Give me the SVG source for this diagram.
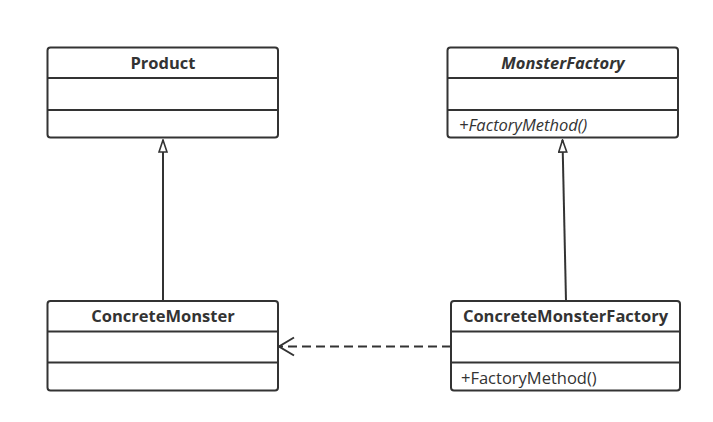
<svg xmlns="http://www.w3.org/2000/svg" width="713" height="422" viewBox="0 0 713 422">
<style>
.box{fill:#fff;stroke:#333;stroke-width:2}
.div{stroke:#333;stroke-width:2}
.t{font-family:"Open Sans","Noto Sans",sans-serif;font-size:16.5px;fill:#333}
.b{font-weight:bold;text-anchor:middle}
.i{font-style:italic}
.edge{fill:none;stroke:#333;stroke-width:2}
</style>
<defs>
<marker id="tri" markerUnits="userSpaceOnUse" markerWidth="14" markerHeight="10" refX="13" refY="5" orient="auto" viewBox="0 0 14 10">
<path d="M1,1 L13,5 L1,9 Z" fill="#fff" stroke="#333" stroke-width="1.6"/>
</marker>
<marker id="open" markerUnits="userSpaceOnUse" markerWidth="18" markerHeight="22" refX="16" refY="10" orient="auto" viewBox="0 0 18 20">
<path d="M1,1 L16,10 L1,19" fill="none" stroke="#333" stroke-width="2"/>
</marker>
</defs>
<g id="edges">
<line class="edge" x1="163" y1="301" x2="163" y2="140" marker-end="url(#tri)"/>
<line class="edge" x1="566" y1="301" x2="562.5" y2="140" marker-end="url(#tri)"/>
<line class="edge" x1="451" y1="346.5" x2="279" y2="346.5" stroke-dasharray="9,5" marker-end="url(#open)"/>
</g>
<g id="Product">
<rect class="box" x="47.5" y="47.5" width="230.5" height="90" rx="3"/>
<line class="div" x1="47.5" y1="78" x2="278" y2="78"/>
<line class="div" x1="47.5" y1="110" x2="278" y2="110"/>
<text class="t b" x="163" y="68.5">Product</text>
</g>
<g id="MonsterFactory">
<rect class="box" x="447.5" y="47.5" width="230.5" height="90" rx="3"/>
<line class="div" x1="447.5" y1="78" x2="678" y2="78"/>
<line class="div" x1="447.5" y1="110" x2="678" y2="110"/>
<text class="t b i" x="563" y="68.5">MonsterFactory</text>
<text class="t i" x="459" y="131">+FactoryMethod()</text>
</g>
<g id="ConcreteMonster">
<rect class="box" x="47.5" y="301" width="230.5" height="89.5" rx="3"/>
<line class="div" x1="47.5" y1="331.5" x2="278" y2="331.5"/>
<line class="div" x1="47.5" y1="362.5" x2="278" y2="362.5"/>
<text class="t b" x="163" y="321.5">ConcreteMonster</text>
</g>
<g id="ConcreteMonsterFactory">
<rect class="box" x="451" y="301" width="229" height="89.5" rx="3"/>
<line class="div" x1="451" y1="331.5" x2="680" y2="331.5"/>
<line class="div" x1="451" y1="362.5" x2="680" y2="362.5"/>
<text class="t b" x="565.5" y="321.5">ConcreteMonsterFactory</text>
<text class="t" x="461" y="384">+FactoryMethod()</text>
</g>
</svg>
